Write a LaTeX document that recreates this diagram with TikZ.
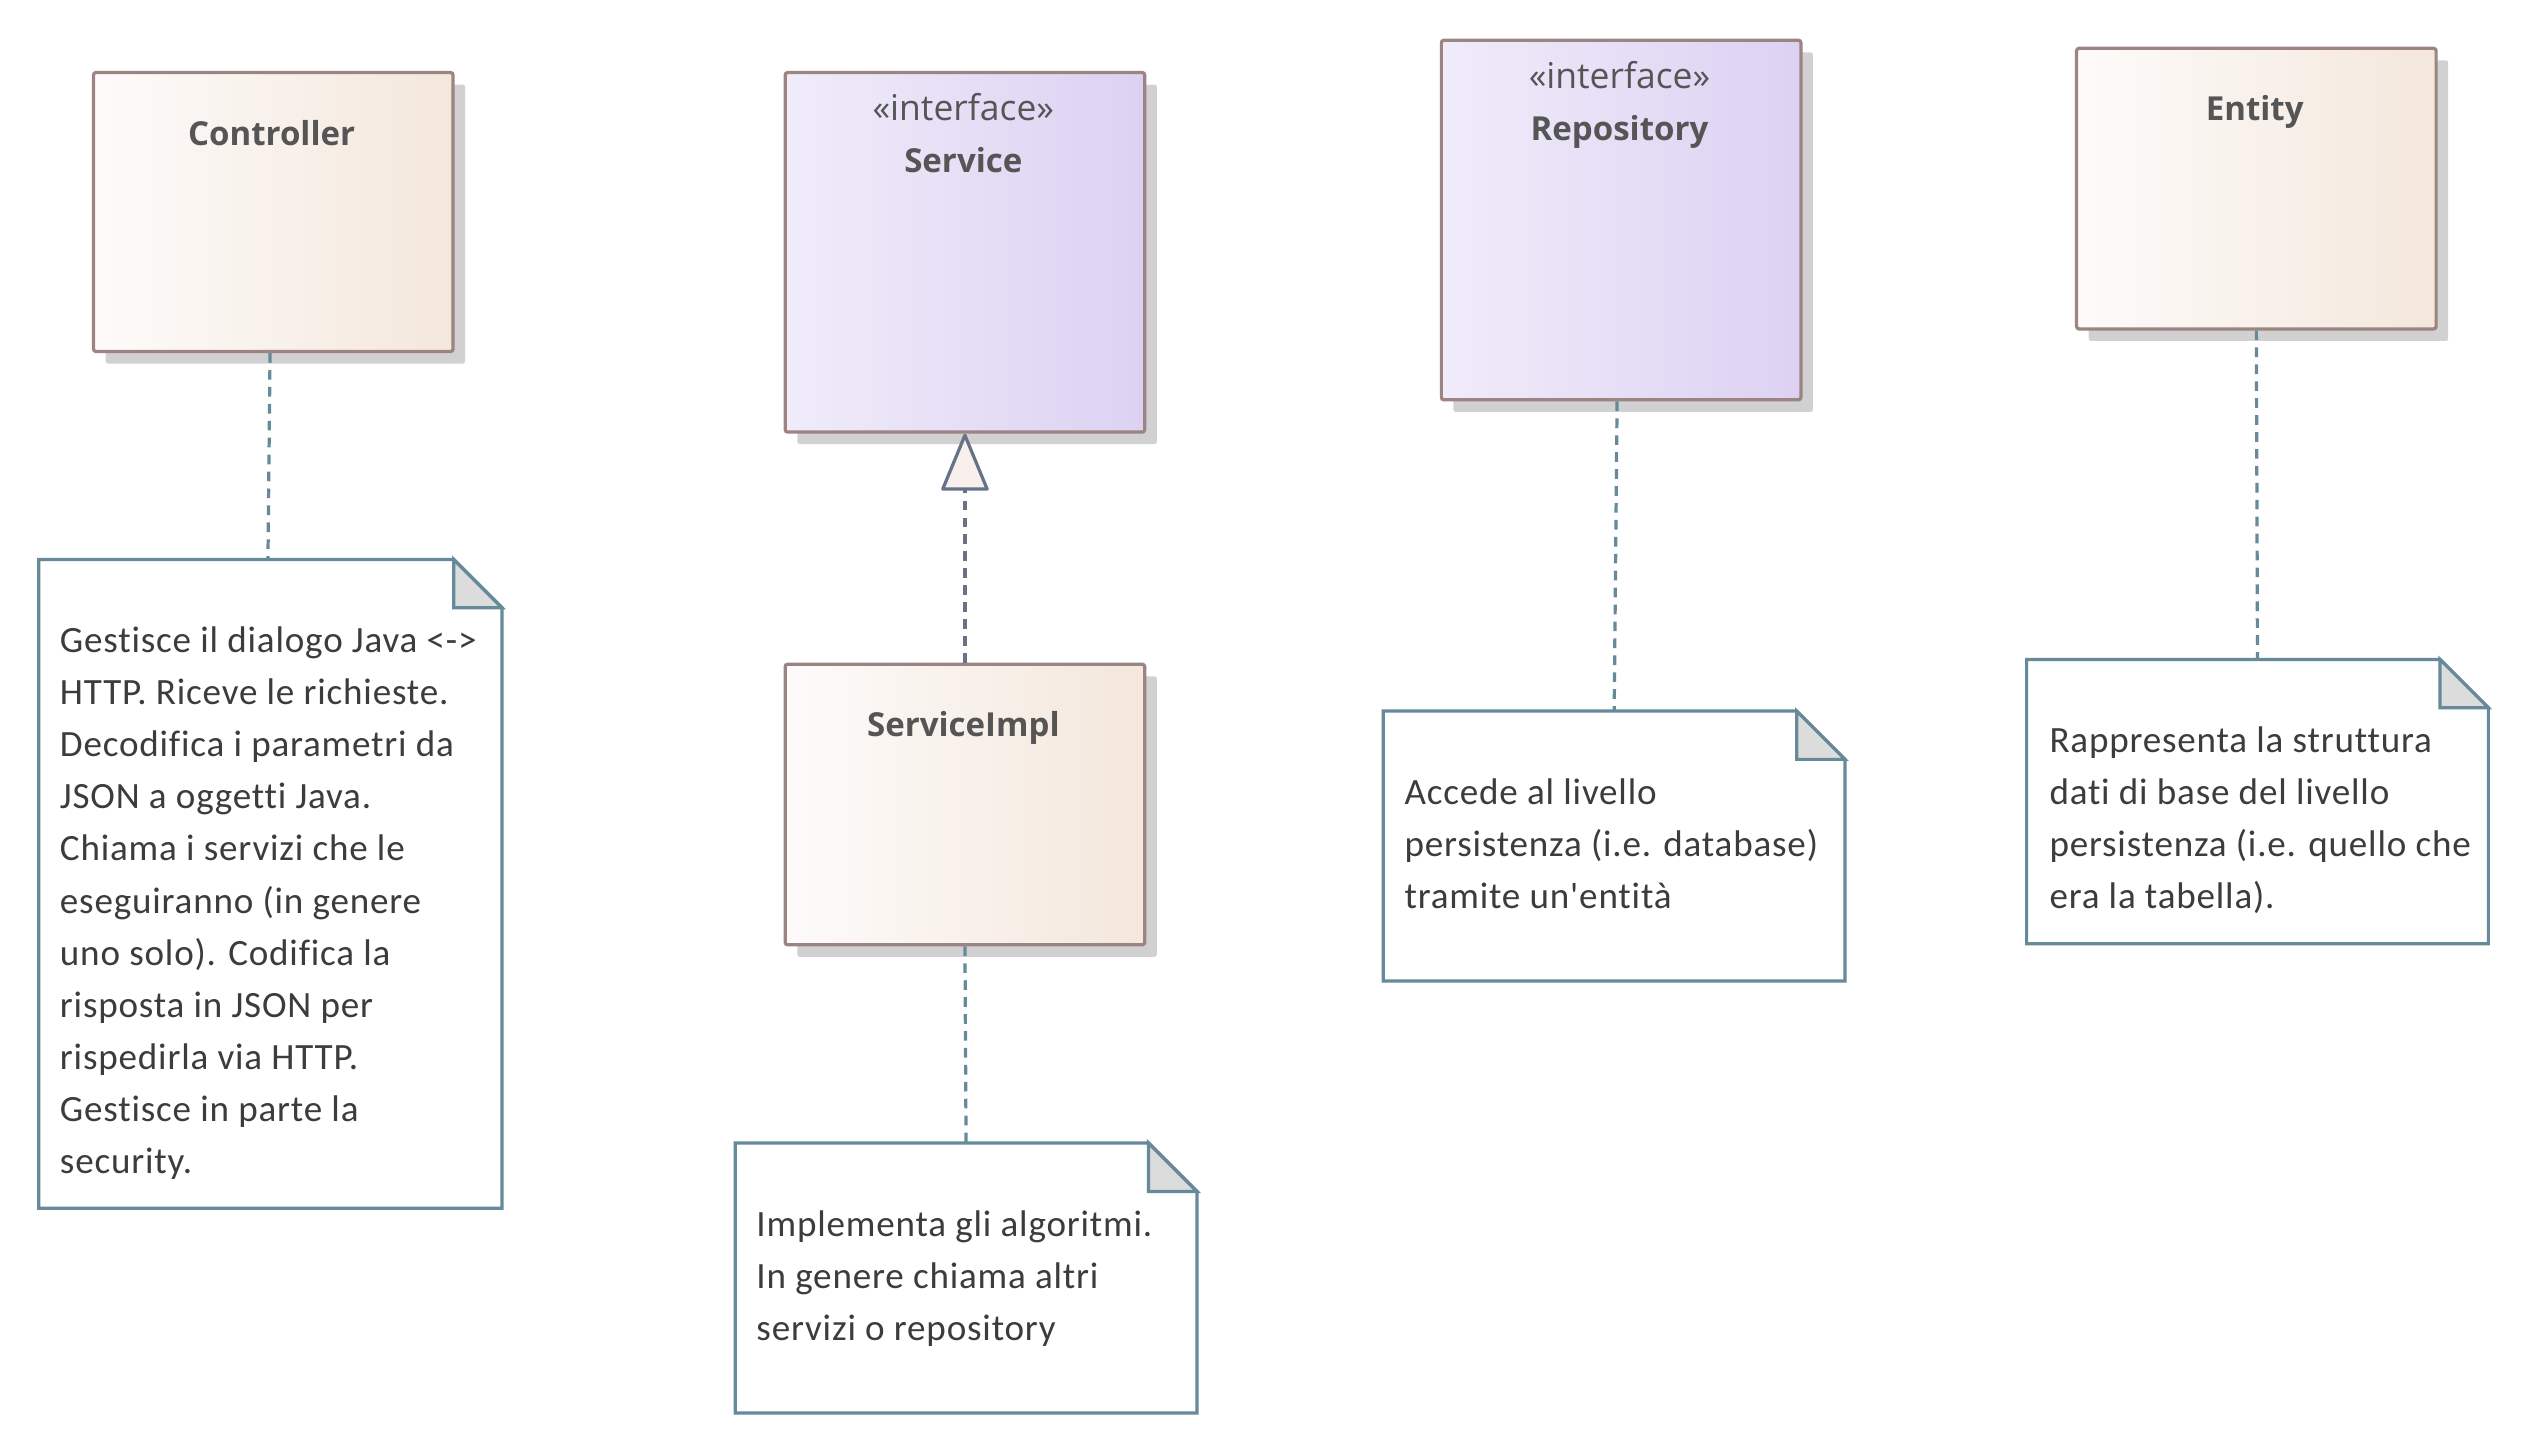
\documentclass[tikz,border=0pt]{standalone}
\usepackage{fontspec}
\setmainfont{Carlito}
\newfontfamily\notefont{Carlito}[Ligatures=NoCommon, LetterSpace=2.2]
\newfontfamily\titlefont{Open Sans}
\usetikzlibrary{arrows.meta,shadows}

\definecolor{classborder}{HTML}{9B8482}
\definecolor{classL}{HTML}{FDFBFA}
\definecolor{classR}{HTML}{F4E7DC}
\definecolor{ifaceL}{HTML}{F0ECFA}
\definecolor{ifaceR}{HTML}{DCD1F2}
\definecolor{shadowgray}{HTML}{D1D1D1}
\definecolor{notedraw}{HTML}{668A9A}
\definecolor{foldgray}{HTML}{DCDCDC}
\definecolor{reallink}{HTML}{677189}
\definecolor{trifill}{HTML}{F7F0EC}
\definecolor{titletext}{HTML}{555555}
\definecolor{notetext}{HTML}{3C3C3C}

\tikzset{
  classbox/.style={draw=classborder, line width=2pt, rounded corners=1.5pt,
    minimum width=223pt, inner sep=0pt, anchor=north west,
    left color=classL, right color=classR,
    drop shadow={shadow xshift=7.5pt, shadow yshift=-7.5pt, fill=shadowgray, opacity=1}},
  ifacebox/.style={classbox, left color=ifaceL, right color=ifaceR},
  ttl/.style={anchor=base, inner sep=0pt, text=titletext,
    font=\titlefont\bfseries\fontsize{20.5}{24}\selectfont},
  stereo/.style={anchor=base, inner sep=0pt, text=titletext,
    font=\titlefont\fontsize{22}{26}\selectfont},
  notearea/.style={draw=none, inner sep=0pt, anchor=north west},
  noteline/.style={draw=notedraw, line width=2pt, line join=miter},
  notetext/.style={anchor=north west, inner sep=0pt, align=left, text=notetext,
    font=\notefont\fontsize{23}{32.3}\selectfont},
  anchorlink/.style={draw=notedraw, line width=2pt, dash pattern=on 6pt off 4.5pt},
  reallinkstyle/.style={draw=reallink, line width=2pt, dash pattern=on 6pt off 4.5pt,
    -{Triangle[length=37pt, width=30pt, fill=trifill, round]}}
}

\newcommand\dognote[1]{%
  \draw[noteline, fill=white] (#1.north west) -- ([xshift=-30pt]#1.north east)
    -- ([yshift=-30pt]#1.north east) -- (#1.south east) -- (#1.south west) -- cycle;
  \draw[noteline, fill=foldgray] ([xshift=-30pt]#1.north east)
    -- ([xshift=-30pt,yshift=-30pt]#1.north east) -- ([yshift=-30pt]#1.north east) -- cycle;}

\begin{document}
\begin{tikzpicture}[x=1pt,y=-1pt]
\useasboundingbox (0,0) rectangle (1568,901);

% class boxes
\node[classbox, minimum height=173pt] (ctrl) at (57,44) {};
\node[ifacebox, minimum height=223pt] (svc) at (486,44) {};
\node[ifacebox, minimum height=223pt] (repo) at (893,24) {};
\node[classbox, minimum height=174pt] (ent) at (1287,29) {};
\node[classbox, minimum height=174pt] (impl) at (486,411) {};

% titles
\node[ttl] (ctrlT) at (168.5,90) {Controller};
\node[stereo] (svcS) at (597.5,75) {«interface»};
\node[ttl] (svcT) at (597.5,107) {Service};
\node[stereo] (repoS) at (1004.5,55) {«interface»};
\node[ttl] (repoT) at (1004.5,87) {Repository};
\node[ttl] (entT) at (1398.5,75) {Entity};
\node[ttl] (implT) at (597.5,457) {ServiceImpl};

% notes
\node[notearea, minimum width=287pt, minimum height=402pt] (n1) at (24,347) {};
\node[notearea, minimum width=286pt, minimum height=167pt] (n2) at (456,709) {};
\node[notearea, minimum width=286pt, minimum height=167pt] (n3) at (858,441) {};
\node[notearea, minimum width=286pt, minimum height=176pt] (n4) at (1257,409) {};
\dognote{n1}
\dognote{n2}
\dognote{n3}
\dognote{n4}

\node[notetext] (n1t) at (37,382) {\strut Gestisce il dialogo Java <->\\HTTP. Riceve le richieste.\\Decodifica i parametri da\\JSON a oggetti Java.\\Chiama i servizi che le\\eseguiranno (in genere\\uno solo). Codifica la\\risposta in JSON per\\rispedirla via HTTP.\\Gestisce in parte la\\security.};
\node[notetext] (n2t) at (469,744) {\strut Implementa gli algoritmi.\\In genere chiama altri\\servizi o repository};
\node[notetext] (n3t) at (871,476) {\strut Accede al livello\\persistenza (i.e. database)\\tramite un'entità};
\node[notetext] (n4t) at (1271,444) {\strut Rappresenta la struttura\\dati di base del livello\\persistenza (i.e. quello che\\era la tabella).};

% connectors
\draw[anchorlink] ([xshift=-2pt]ctrl.south) -- ([xshift=-1.5pt]n1.north);
\draw[anchorlink] (impl.south) -- (n2.north);
\draw[anchorlink] ([xshift=-2.5pt]repo.south) -- (n3.north);
\draw[anchorlink] (ent.south) -- (n4.north);
\draw[reallinkstyle] (impl.north) -- (svc.south);
\end{tikzpicture}
\end{document}
